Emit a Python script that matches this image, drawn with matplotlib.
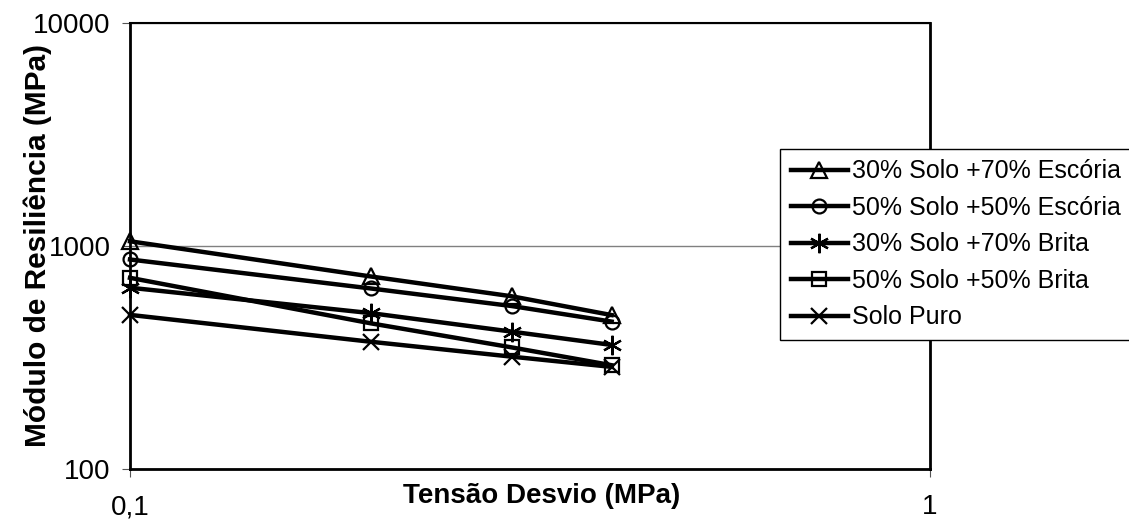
import matplotlib
matplotlib.use("Agg")
import matplotlib.pyplot as plt
from matplotlib.ticker import FixedLocator, FixedFormatter, NullLocator

plt.rcParams["font.family"] = ["Liberation Sans", "DejaVu Sans"]

# Deviator stress (MPa)
tensao = [0.1, 0.2, 0.3, 0.4]

# Resilient modulus (MPa) for each mixture
escoria_30_70 = [1050, 730, 595, 490]
escoria_50_50 = [870, 645, 538, 458]
brita_30_70 = [650, 500, 413, 360]
brita_50_50 = [720, 450, 351, 292]
solo_puro = [491, 372, 319, 287]

labels = [
    "30% Solo +70% Escória",
    "50% Solo +50% Escória",
    "30% Solo +70% Brita",
    "50% Solo +50% Brita",
    "Solo Puro",
]
series = [escoria_30_70, escoria_50_50, brita_30_70, brita_50_50, solo_puro]
markers = ["^", "o", (6, 2, 0), "s", "x"]
msizes = [11, 10, 14, 10, 12]

x_ticks = [0.1, 1]
x_ticklabels = ["0,1", "1"]
y_ticks = [100, 1000, 10000]
y_ticklabels = ["100", "1000", "10000"]

W, H = 1129, 525
fig = plt.figure(figsize=(W / 100, H / 100), dpi=100)
ax = fig.add_axes([130 / W, 1 - 469 / H, 800 / W, 446 / H])

for vals, lab, mk, ms in zip(series, labels, markers, msizes):
    ax.plot(tensao, vals, color="black", linewidth=3.2, marker=mk,
            markersize=ms, markerfacecolor="none", markeredgecolor="black",
            markeredgewidth=1.6, label=lab, clip_on=False, zorder=3)

ax.set_xscale("log")
ax.set_yscale("log")
ax.set_xlim(0.1, 1)
ax.set_ylim(100, 10000)

ax.xaxis.set_major_locator(FixedLocator(x_ticks))
ax.xaxis.set_major_formatter(FixedFormatter(x_ticklabels))
ax.xaxis.set_minor_locator(NullLocator())
ax.yaxis.set_major_locator(FixedLocator(y_ticks))
ax.yaxis.set_major_formatter(FixedFormatter(y_ticklabels))
ax.yaxis.set_minor_locator(NullLocator())

ax.tick_params(axis="both", which="major", direction="out", length=6,
               width=0.8, color="#555555", labelsize=20)
ax.tick_params(axis="x", pad=12)
ax.tick_params(axis="y", pad=8)

ax.yaxis.grid(True, color="#808080", linewidth=1.0)
ax.set_axisbelow(True)

for side in ["left", "bottom", "right"]:
    ax.spines[side].set_linewidth(2.0)
ax.spines["top"].set_linewidth(1.5)

ax.set_xlabel("Tensão Desvio (MPa)", fontsize=20, fontweight="bold", va="center")
ax.xaxis.set_label_coords(0.515, -0.06)
ax.set_ylabel("Módulo de Resiliência (MPa)", fontsize=21.5, fontweight="bold", va="center")
ax.yaxis.set_label_coords(-0.115, 0.5)

leg = fig.legend(loc="upper left", bbox_to_anchor=(780 / W, 1 - 149 / H),
                 bbox_transform=fig.transFigure, fontsize=18, frameon=True,
                 fancybox=False, edgecolor="black", framealpha=1,
                 handlelength=2.3, handletextpad=0.15, borderpad=0.42,
                 labelspacing=0.5, borderaxespad=0)
leg.get_frame().set_linewidth(1.0)

fig.savefig("out.png", dpi=100)
